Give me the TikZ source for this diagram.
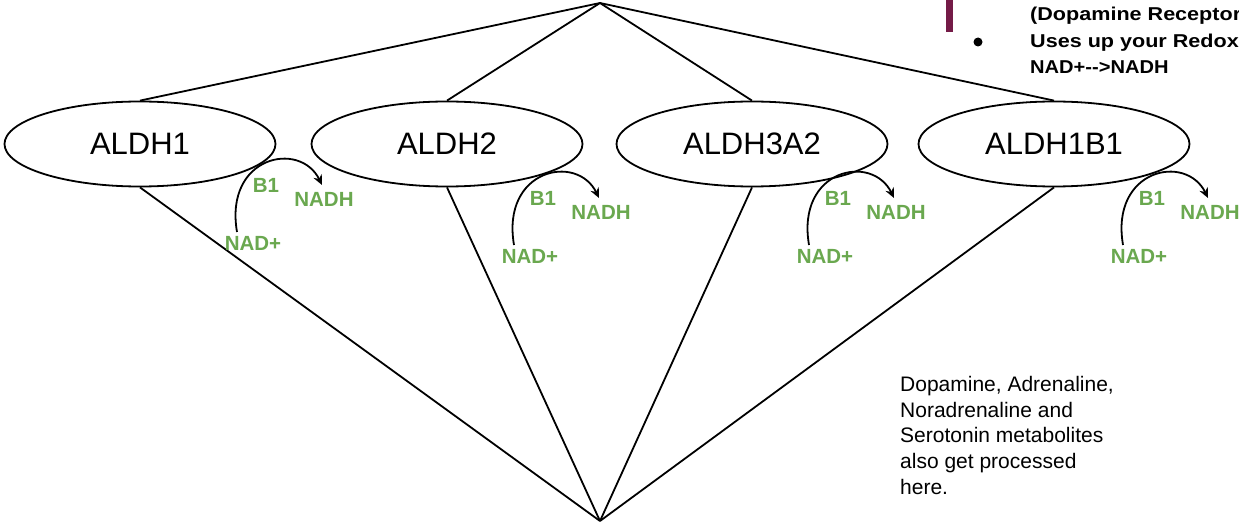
\documentclass[tikz,border=0pt]{standalone}
\usepackage{fontspec}
\setmainfont{Liberation Sans}
\usetikzlibrary{shapes.geometric,arrows.meta}
\definecolor{leaf}{HTML}{6AA84F}
\definecolor{plum}{HTML}{741B47}
\begin{document}
\begin{tikzpicture}[x=1pt,y=-1pt,
  enz/.style={draw, ellipse, line width=1.8pt, minimum width=271pt, minimum height=85pt, inner sep=0pt, font=\fontsize{31}{31}\selectfont},
  link/.style={line width=1.8pt},
  cof/.style={text=leaf, font=\bfseries\fontsize{20.5}{20.5}\selectfont, inner sep=0pt},
  cyc/.style={line width=1.8pt, -{Stealth[length=10pt,width=9pt]}},
  note/.style={font=\bfseries\fontsize{18.6}{18.6}\selectfont, anchor=base west, inner sep=0pt},
  para/.style={anchor=north west, align=left, inner sep=0pt, font=\fontsize{21}{25.7}\selectfont}]
\fill[white] (0,0) rectangle (1239,529);
\useasboundingbox (0,0) rectangle (1239,529);

\coordinate (top) at (600,3);
\coordinate (bot) at (600,521);
\node[enz] (e1) at (140,144) {ALDH1};
\node[enz] (e2) at (447,144) {ALDH2};
\node[enz] (e3) at (752,144) {ALDH3A2};
\node[enz] (e4) at (1054,144) {ALDH1B1};
\foreach \n in {e1,e2,e3,e4}{
  \draw[link] (top) -- (\n.north);
  \draw[link] (\n.south) -- (bot);
}

\foreach \g/\gx/\gy in {1/266/185, 2/543/198, 3/838/198, 4/1152/198}{
  \node[cof] (b\g) at (\gx,\gy) {B1};
  \node[cof] (nadh\g) at (\gx+58,\gy+14) {NADH};
  \node[cof] (nad\g) at (\gx-13,\gy+58) {NAD+};
  \coordinate (s\g) at (\gx-29,\gy+47);
  \coordinate (t\g) at (\gx+56,\gy);
  \draw[cyc] (s\g) .. controls +(-13,-76) and +(-22,-45) .. (t\g);
}

\fill[plum] (946,0) rectangle (953,32);
\node[circle, fill=black, inner sep=0pt, minimum size=9pt] (dot) at (978,42) {};
\node[note] (n1) at (1030,21) {\scalebox{1.16}[1]{(Dopamine Receptor}};
\node[note] (n2) at (1030,48) {\scalebox{1.16}[1]{Uses up your Redox}};
\node[note] (n3) at (1030,74) {\scalebox{1.08}[1]{NAD+-{}-{}>NADH}};

\node[para] (txt) at (900,376) {Dopamine, Adrenaline,\\Noradrenaline and\\Serotonin metabolites\\also get processed\\here.};
\end{tikzpicture}
\end{document}
